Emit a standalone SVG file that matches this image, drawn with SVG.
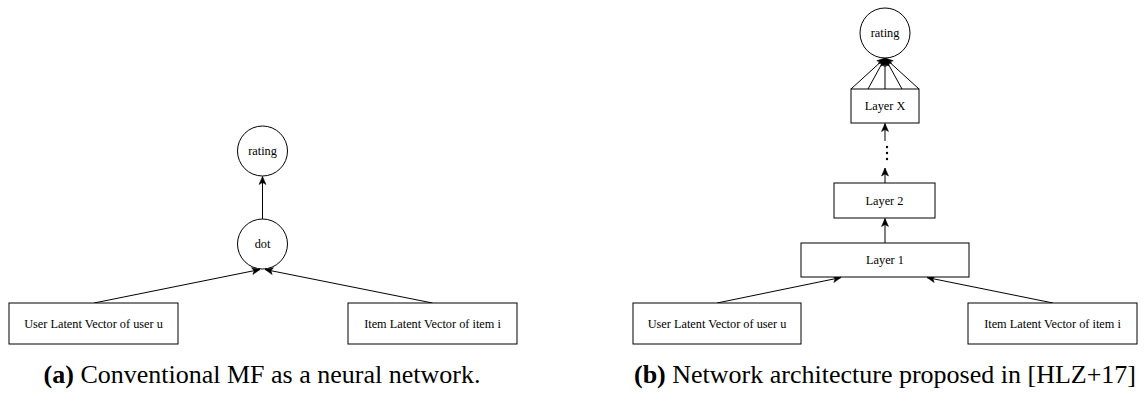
<svg xmlns="http://www.w3.org/2000/svg" width="1147" height="394" viewBox="0 0 1147 394">
<style>
  .box { fill: #ffffff; stroke: #000000; stroke-width: 1; }
  .lbl { font-family: 'Liberation Serif', 'Times New Roman', serif; font-size: 12.3px; fill: #000000; text-anchor: middle; }
  .edge { fill: none; stroke: #000000; stroke-width: 1; marker-end: url(#arr); }
  .cap { font-family: 'Liberation Serif', 'Times New Roman', serif; font-size: 26px; fill: #000000; text-anchor: middle; }
  .dot { fill: #000000; }
</style>
<defs>
  <marker id="arr" markerUnits="userSpaceOnUse" markerWidth="10" markerHeight="10" viewBox="0 0 10 8" refX="9" refY="4" orient="auto">
    <path d="M1,0.5 L9,4 L1,7.5 L3,4 Z" fill="#000000" stroke="#000000" stroke-width="0.5"/>
  </marker>
</defs>
<rect width="1147" height="394" fill="#ffffff"/>

<g id="connectors">
  <line class="edge" x1="94" y1="303" x2="260" y2="269.5"/>
  <line class="edge" x1="432.5" y1="303" x2="265" y2="269.5"/>
  <line class="edge" x1="262.5" y1="219" x2="262.5" y2="176.5"/>
  <line class="edge" x1="717" y1="303" x2="841" y2="277.5"/>
  <line class="edge" x1="1053" y1="303" x2="927" y2="277.5"/>
  <line class="edge" x1="885" y1="243" x2="885" y2="218.5"/>
  <line class="edge" x1="885" y1="183" x2="885" y2="168"/>
  <line class="edge" x1="885" y1="141" x2="885" y2="123.5"/>
  <line class="edge" x1="851" y1="89" x2="885" y2="58"/>
  <line class="edge" x1="868" y1="89" x2="885" y2="58"/>
  <line class="edge" x1="885" y1="89" x2="885" y2="58"/>
  <line class="edge" x1="902" y1="89" x2="885" y2="58"/>
  <line class="edge" x1="919" y1="89" x2="885" y2="58"/>
</g>

<g id="a-rating">
  <circle class="box" cx="262.5" cy="151" r="25"/>
  <text class="lbl" x="262.5" y="155">rating</text>
</g>
<g id="a-dot">
  <circle class="box" cx="262.5" cy="244" r="25"/>
  <text class="lbl" x="262.5" y="248">dot</text>
</g>
<g id="a-user">
  <rect class="box" x="9" y="303" width="169" height="41"/>
  <text class="lbl" x="93.5" y="328">User Latent Vector of user u</text>
</g>
<g id="a-item">
  <rect class="box" x="348" y="303" width="169" height="41"/>
  <text class="lbl" x="432.5" y="328">Item Latent Vector of item i</text>
</g>

<g id="b-rating">
  <circle class="box" cx="885" cy="33" r="25"/>
  <text class="lbl" x="885" y="37">rating</text>
</g>
<g id="b-layerx">
  <rect class="box" x="851" y="89" width="68" height="34"/>
  <text class="lbl" x="885" y="110">Layer X</text>
</g>
<g id="b-dots">
  <circle class="dot" cx="887" cy="147" r="1.2"/>
  <circle class="dot" cx="887" cy="153" r="1.2"/>
  <circle class="dot" cx="887" cy="159" r="1.2"/>
</g>
<g id="b-layer2">
  <rect class="box" x="834" y="183" width="101" height="35"/>
  <text class="lbl" x="884.5" y="205">Layer 2</text>
</g>
<g id="b-layer1">
  <rect class="box" x="801" y="243" width="168" height="34"/>
  <text class="lbl" x="885" y="264">Layer 1</text>
</g>
<g id="b-user">
  <rect class="box" x="633" y="303" width="168" height="41"/>
  <text class="lbl" x="717" y="328">User Latent Vector of user u</text>
</g>
<g id="b-item">
  <rect class="box" x="968" y="303" width="169" height="41"/>
  <text class="lbl" x="1052.5" y="328">Item Latent Vector of item i</text>
</g>

<g id="captions">
  <text class="cap" x="262" y="383"><tspan font-weight="bold">(a)</tspan> Conventional MF as a neural network.</text>
  <text class="cap" x="885" y="383"><tspan font-weight="bold">(b)</tspan> Network architecture proposed in [HLZ+17]</text>
</g>
</svg>
